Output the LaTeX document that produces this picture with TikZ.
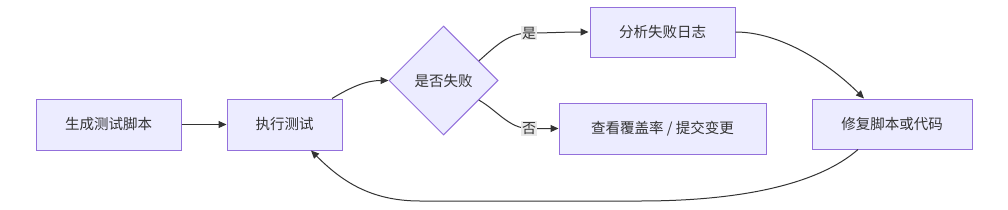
\documentclass[tikz,border=0pt]{standalone}
\usepackage{fontspec}
\setmainfont{Noto Sans CJK SC}
\usetikzlibrary{shapes.geometric,arrows.meta}
\definecolor{nodefill}{HTML}{ECECFF}
\definecolor{nodeline}{HTML}{9370DB}
\definecolor{txt}{HTML}{333333}
\definecolor{lblbg}{HTML}{E8E8E8}
\tikzset{
  box/.style={draw=nodeline, fill=nodefill, line width=1pt, text=txt,
    minimum height=51pt, inner sep=0pt, font=\fontsize{14.5pt}{16pt}\selectfont},
  dia/.style={diamond, draw=nodeline, fill=nodefill, line width=1pt, text=txt,
    minimum width=109pt, minimum height=109pt, inner sep=0pt, aspect=1,
    font=\fontsize{14.5pt}{16pt}\selectfont},
  conn/.style={draw=txt, line width=1pt, -{Triangle[length=8pt,width=7pt]}},
  lbl/.style={fill=lblbg, text=txt, inner sep=1pt, font=\fontsize{14pt}{16pt}\selectfont}
}
\begin{document}
\begin{tikzpicture}[x=1pt,y=-1pt]
\useasboundingbox[fill=white] (0,0) rectangle (1008,209);
\node[box, minimum width=145pt] (A) at (108.5,124.5) {生成测试脚本};
\node[box, minimum width=115pt] (B) at (284.5,124.5) {执行测试};
\node[dia] (C) at (443.5,80.5) {是否失败};
\node[box, minimum width=145pt, minimum height=50pt] (D) at (662.5,32) {分析失败日志};
\node[box, minimum width=207pt] (E) at (662.5,128.5) {查看覆盖率 / 提交变更};
\node[box, minimum width=160pt, minimum height=50pt] (F) at (892,124) {修复脚本或代码};
\coordinate (ly) at (529,33);
\coordinate (ln) at (529,128.5);

\draw[conn] (A) -- (B);
\draw[conn] ([xshift=47.5pt]B.north) .. controls +(20,-12) and +(-22,0) .. (C.west);
\draw[conn] (C.29) .. controls +(18,-16) and +(-20,0) .. (ly) .. controls +(20,0) and +(-25,0) .. ([xshift=-1pt]D.west);
\draw[conn] (C.-29) .. controls +(18,10) and +(-20,0) .. (ln) -- (E.west);
\draw[conn] (D.east) .. controls +(45,0) and +(-35,-35) .. ([xshift=-28pt]F.north);
\draw[conn] ([xshift=-34pt]F.south) .. controls +(-40,35) and +(100,0) .. (640,201) -- (420,201) .. controls +(-50,0) and +(30,30) .. ([xshift=26.5pt]B.south);
\node[lbl] (lyl) at (ly) {是};
\node[lbl] (lnl) at (ln) {否};
\end{tikzpicture}
\end{document}
